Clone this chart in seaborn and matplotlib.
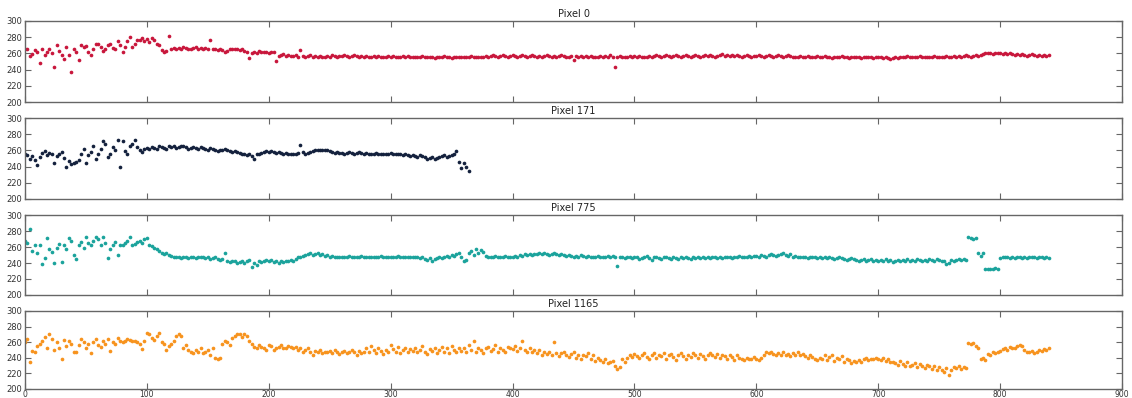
import numpy as np
import pandas as pd
import matplotlib
matplotlib.use("Agg")
import matplotlib.pyplot as plt
import seaborn as sns

titles = ["Pixel 0", "Pixel 171", "Pixel 775", "Pixel 1165"]
colors = ["#c8173c", "#14213d", "#1ba39c", "#f7931e"]

pixel_0 = [
    265,265,257,259,264,262,248,265,258,262,
    266,260,243,270,263,258,253,268,258,237,
    266,262,252,270,268,269,262,258,266,271,
    272,268,263,265,270,272,267,265,275,270,
    262,268,275,280,268,272,276,277,279,275,
    278,274,279,276,272,270,264,262,263,281,
    266,267,265,267,266,268,267,266,265,267,
    268,266,267,266,267,265,276,265,266,264,
    265,264,262,263,265,266,266,265,264,265,
    263,262,254,260,262,261,263,262,262,262,
    261,262,262,251,257,258,259,257,258,257,
    257,258,256,264,257,256,257,258,256,257,
    256,257,255,256,257,256,258,257,256,257,
    257,258,257,256,257,258,257,256,257,256,
    257,256,255,257,256,257,256,255,256,257,
    256,257,256,255,256,257,256,257,256,255,
    256,255,256,257,256,255,256,255,254,256,
    255,256,257,256,255,254,256,255,256,255,
    256,255,256,257,256,255,256,255,256,257,
    256,257,258,257,256,257,258,257,256,257,
    258,257,256,257,258,257,256,257,258,257,
    256,257,256,257,258,257,256,257,256,257,
    258,257,256,255,257,252,257,256,257,256,
    257,256,257,256,255,256,257,256,257,256,
    258,256,243,256,257,256,255,256,257,256,
    257,256,257,256,255,256,257,256,257,258,
    257,256,257,258,257,256,257,258,257,256,
    257,258,257,256,257,258,257,256,257,258,
    257,258,257,256,257,258,259,257,258,257,
    258,257,258,257,256,257,258,257,256,257,
    257,258,257,256,257,258,257,256,257,258,
    257,256,257,258,257,256,255,256,257,256,
    256,257,256,255,256,257,255,256,257,256,
    255,254,256,255,256,257,256,255,254,256,
    255,256,255,254,256,255,256,255,254,255,
    256,255,254,255,254,253,254,255,254,256,
    255,256,257,255,256,255,256,257,256,255,
    256,255,256,257,256,255,256,255,257,256,
    256,257,256,257,256,257,258,257,256,257,
    258,257,258,259,260,261,260,259,260,261,
    260,259,260,259,260,259,258,259,258,259,
    258,257,258,259,258,257,258,257,258,257,
    258,
]

pixel_171 = [
    256,254,250,253,248,242,252,257,259,254,
    257,255,245,253,256,258,251,239,247,243,
    244,246,248,256,262,244,254,258,265,250,
    256,262,272,268,252,256,264,260,273,240,
    271,259,256,266,268,273,264,260,258,262,
    263,262,264,263,262,265,264,263,262,266,
    264,265,263,264,266,265,264,262,263,264,
    263,262,264,263,262,261,263,262,260,259,
    260,261,262,260,259,258,259,258,257,256,
    255,254,256,253,250,255,256,257,258,259,
    258,259,258,257,258,257,256,257,256,255,
    256,255,257,267,258,256,257,258,259,260,
    260,261,260,261,260,259,258,257,258,257,
    257,256,257,258,257,256,257,258,257,256,
    257,256,255,256,257,256,255,256,255,256,
    257,256,255,256,255,254,255,254,253,254,
    253,252,254,253,252,250,251,252,250,251,
    252,253,254,252,253,254,255,259,246,238,
    245,240,234,
]

pixel_775 = [
    268,265,282,255,263,252,262,239,246,271,
    257,254,240,259,264,241,262,257,271,268,
    250,245,262,266,259,273,265,263,268,272,
    270,262,273,265,246,258,263,266,250,262,
    263,265,267,272,262,264,266,268,265,270,
    271,263,261,259,258,255,253,251,252,250,
    249,248,247,248,246,247,248,246,247,248,
    246,247,248,247,246,247,245,246,248,245,
    244,245,252,242,241,243,242,240,241,243,
    240,242,244,235,240,238,242,241,243,244,
    242,244,241,243,240,242,241,243,242,244,
    243,245,248,247,249,250,251,252,250,251,
    252,250,251,249,250,248,249,248,247,248,
    248,247,248,249,247,248,247,248,249,248,
    247,248,247,248,247,248,249,248,247,248,
    248,247,248,249,248,247,248,247,248,247,
    247,248,246,247,245,244,246,243,245,246,
    247,246,248,249,248,250,249,251,252,248,
    242,244,253,255,250,258,252,256,254,249,
    248,247,248,249,248,247,248,249,248,247,
    248,249,248,250,249,251,250,251,250,251,
    251,252,251,252,251,250,251,252,251,250,
    251,250,249,250,249,248,249,248,250,249,
    248,249,248,247,248,249,248,247,248,249,
    248,249,247,236,248,247,246,248,247,246,
    248,247,245,246,247,249,246,244,247,248,
    246,245,247,248,246,245,247,246,245,247,
    246,247,246,245,247,246,247,246,247,246,
    247,246,247,248,246,247,246,247,248,247,
    246,247,248,249,248,247,248,249,248,249,
    249,248,250,249,248,250,251,250,249,250,
    251,252,250,249,251,248,249,248,247,248,
    247,246,247,248,247,246,247,246,247,246,
    247,246,245,246,247,246,245,244,245,246,
    245,244,243,244,245,243,244,245,242,244,
    243,244,242,245,243,244,241,243,244,242,
    244,243,245,242,244,243,245,244,242,244,
    243,245,244,243,245,244,243,242,239,240,
    244,243,244,245,244,245,244,272,271,270,
    271,252,249,252,233,232,233,232,234,233,
    246,247,248,247,246,247,246,248,247,246,
    247,246,247,248,247,246,248,247,246,247,
    246,
]

pixel_1165 = [
    260,264,234,249,247,255,258,262,267,252,
    270,264,250,260,252,238,263,255,262,258,
    248,247,256,264,260,252,258,246,260,264,
    256,254,262,258,264,249,260,258,265,262,
    260,262,264,263,261,262,260,258,251,262,
    272,270,266,263,268,272,260,258,250,255,
    258,262,268,270,268,252,256,250,248,246,
    250,247,252,246,248,250,244,252,240,238,
    240,258,262,260,256,266,268,270,270,267,
    270,268,262,258,254,252,256,254,252,250,
    256,255,250,252,254,256,252,253,255,254,
    252,254,250,252,248,250,252,247,244,249,
    248,250,246,248,247,249,246,250,248,245,
    247,249,246,248,250,247,244,249,246,248,
    252,248,255,250,246,252,249,245,250,247,
    256,251,248,254,246,250,253,248,251,249,
    252,247,250,255,248,245,251,249,253,246,
    250,254,248,252,246,255,250,247,253,249,
    252,248,256,250,261,247,253,250,246,252,
    254,249,251,256,248,252,250,247,254,252,
    251,255,249,253,261,250,247,252,248,250,
    246,250,244,248,245,247,243,260,246,242,
    246,248,244,241,245,247,240,243,238,244,
    242,246,239,243,236,240,237,234,238,233,
    235,236,229,226,228,238,234,240,244,241,
    245,242,240,244,246,241,238,243,246,240,
    244,242,246,239,243,245,241,237,243,246,
    242,238,244,241,246,243,240,245,242,239,
    244,246,243,241,245,240,244,242,238,243,
    241,237,243,240,238,237,240,239,238,241,
    238,237,240,244,248,246,247,245,243,246,
    244,247,243,245,242,246,244,247,243,245,
    242,240,243,241,238,237,240,239,243,237,
    241,243,236,240,238,242,235,239,237,233,
    236,234,237,235,238,240,237,239,238,240,
    239,237,240,236,238,235,234,233,231,236,
    232,230,234,229,231,233,228,232,230,227,
    231,229,226,230,224,228,225,222,227,218,
    224,228,227,229,226,228,227,259,258,259,
    255,253,238,240,237,245,243,247,246,248,
    249,251,253,250,254,252,253,255,257,255,
    250,248,247,249,246,248,250,249,251,250,
    252,
]

series = [pixel_0, pixel_171, pixel_775, pixel_1165]
x_step = 2
y_ticks = [200, 220, 240, 260, 280, 300]
x_ticks = [0, 100, 200, 300, 400, 500, 600, 700, 800, 900]

sns.set_style("ticks")
plt.rcParams["font.family"] = ["DejaVu Sans"]
plt.rcParams.update({
    "axes.edgecolor": "#666666",
    "axes.linewidth": 1.0,
    "xtick.color": "#666666",
    "ytick.color": "#666666",
    "xtick.labelcolor": "#333333",
    "ytick.labelcolor": "#333333",
    "xtick.direction": "in",
    "ytick.direction": "in",
    "xtick.major.size": 4,
    "ytick.major.size": 4,
})

W, H = 1132, 398
fig = plt.figure(figsize=(W / 100, H / 100), dpi=100)
left, right = 25, 1122
tops = [21, 118, 215, 311]
bottoms = [102, 199, 295, 389]

for i, (vals, title, col) in enumerate(zip(series, titles, colors)):
    ax = fig.add_axes([left / W, 1 - bottoms[i] / H, (right - left) / W,
                       (bottoms[i] - tops[i]) / H])
    df = pd.DataFrame({"x": np.arange(len(vals)) * x_step, "y": vals})
    sns.scatterplot(data=df, x="x", y="y", ax=ax, color=col, s=7,
                    linewidth=0, legend=False)
    ax.set_xlim(0, 900)
    ax.set_ylim(200, 300)
    ax.set_yticks(y_ticks)
    ax.set_xticks(x_ticks)
    ax.tick_params(axis="both", which="both", top=True, right=True,
                   labelsize=6, pad=2)
    ax.tick_params(axis="x", pad=0.5, labelsize=5.5)
    ax.set_xlabel("")
    ax.set_ylabel("")
    ax.set_title(title, fontsize=7, pad=3, color="#222222")
    if i < 3:
        ax.tick_params(labelbottom=False)
    for sp in ax.spines.values():
        sp.set_visible(True)

fig.savefig("out.png", dpi=100)
